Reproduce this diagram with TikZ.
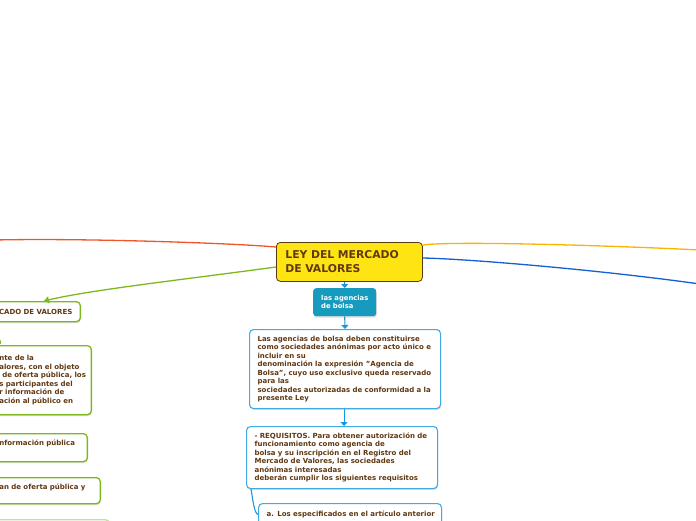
\documentclass[tikz,border=0pt]{standalone}
\usepackage{fontspec}
\setmainfont{DejaVu Sans}
\usetikzlibrary{arrows.meta,shadows}
\definecolor{brn}{RGB}{96,57,19}
\definecolor{ylw}{RGB}{255,228,20}
\definecolor{ylwb}{RGB}{90,58,16}
\definecolor{tealbox}{RGB}{22,155,190}
\definecolor{bluebd}{RGB}{64,170,230}
\definecolor{bluear}{RGB}{25,150,225}
\definecolor{grn}{RGB}{125,185,30}
\definecolor{grnl}{RGB}{195,222,150}
\definecolor{redl}{RGB}{240,85,40}
\definecolor{orl}{RGB}{250,180,0}
\definecolor{bll}{RGB}{20,95,210}
\newcommand\nb[1]{\mbox{#1}}
\tikzset{
  shad/.style={drop shadow={shadow xshift=0.6pt,shadow yshift=-1.4pt,opacity=0.3,fill=black!45}},
  txt/.style={text=brn,font=\bfseries\fontsize{7}{8.5}\selectfont},
  bluebox/.style={draw=bluebd,line width=1.1pt,fill=white,rounded corners=4pt,shad,
    anchor=north west,inner xsep=8pt,inner ysep=0pt,align=left,txt},
  greenbox/.style={draw=grn,line width=1.3pt,fill=white,rounded corners=4pt,shad,
    anchor=north east,inner xsep=8pt,inner ysep=0pt,txt},
  bluearrow/.style={draw=bluear,line width=1.1pt,-{Triangle[width=7pt,length=4pt]}},
  branch/.style={line width=1.3pt},
}
\begin{document}
\begin{tikzpicture}[x=1pt,y=-1pt]
\useasboundingbox (0,0) rectangle (696,520);
\clip (0,0) rectangle (696,520);

% central node
\node[draw=ylwb,line width=0.8pt,fill=ylw,rounded corners=4pt,anchor=north west,
  minimum width=146pt,minimum height=39pt,inner xsep=9pt,inner ysep=0pt,
  text width=128pt,align=left,text=brn,font=\bfseries\fontsize{10.8}{14}\selectfont]
  (ley) at (276,242) {\nb{LEY DEL MERCADO}\\\nb{DE VALORES}};

% teal box
\node[fill=tealbox,rounded corners=3pt,shad,anchor=north west,minimum width=63pt,
  minimum height=28pt,inner xsep=8pt,inner ysep=0pt,text width=47pt,align=left,
  text=white,font=\bfseries\fontsize{6.8}{8.5}\selectfont]
  (ag) at (313,288) {\nb{las agencias}\\\nb{de bolsa}};

% blue boxes
\node[bluebox,minimum width=191pt,minimum height=79pt,text width=175pt] (b3) at (249,329)
 {\nb{Las agencias de bolsa deben constituirse}\\
  \nb{como sociedades anónimas por acto único e}\\
  \nb{incluir en su}\\
  \nb{denominación la expresión "Agencia de}\\
  \nb{Bolsa", cuyo uso exclusivo queda reservado}\\
  \nb{para las}\\
  \nb{sociedades autorizadas de conformidad a la}\\
  \nb{presente Ley}};

\node[bluebox,minimum width=191pt,minimum height=62pt,text width=175pt] (b4) at (246,426)
 {\nb{- REQUISITOS. Para obtener autorización de}\\
  \nb{funcionamiento como agencia de}\\
  \nb{bolsa y su inscripción en el Registro del}\\
  \nb{Mercado de Valores, las sociedades}\\
  \nb{anónimas interesadas}\\
  \nb{deberán cumplir los siguientes requisitos}};

\node[bluebox,minimum width=183pt,minimum height=22pt,text width=167pt] (b5) at (258,503)
 {\nb{a. Los especificados en el artículo anterior}};

% green boxes (left, partly cut off)
\node[greenbox,minimum width=141pt,minimum height=20pt,text width=125pt,align=right] (l1) at (81,301)
 {\nb{CADO DE VALORES}};
\node[greenbox,minimum width=100pt,minimum height=69pt,text width=84pt,align=left] (l2) at (92,345)
 {\nb{nte de la}\\
  \nb{alores, con el objeto}\\
  \nb{\hspace{3pt}de oferta pública, los}\\
  \nb{s participantes del}\\
  \nb{r información de}\\
  \nb{ación al público en}\\[2pt]};
\node[greenbox,minimum width=96pt,minimum height=28pt,text width=80pt,align=left] (l3) at (88,433)
 {\nb{nformación pública}\\[1pt]\mbox{}};
\node[greenbox,minimum width=109pt,minimum height=26pt,text width=93pt,align=left] (l4) at (101,477)
 {\nb{an de oferta pública y}\\\mbox{}};
\node[greenbox,draw=grnl,minimum width=118pt,minimum height=20pt] (l5) at (110,519) {};

% branches
\coordinate (redend) at (-5,240);
\coordinate (orend) at (700,250);
\coordinate (blend) at (700,284);
\coordinate (g2s) at (-6,334);
\draw[branch,redl] ([yshift=-5pt]ley.north west) .. controls (230,243) and (80,238) .. (redend);
\draw[branch,grn,-{Triangle[width=7pt,length=5pt]}] ([yshift=-25pt]ley.north west)
  .. controls (180,280) and (90,290) .. ([xshift=-37pt]l1.north east);
\draw[branch,grn,-{Triangle[width=5pt,length=3pt]}] (g2s) -- ([xshift=10pt,yshift=1pt]l2.north west);
\draw[branch,orl] ([yshift=-3pt]ley.north east) .. controls (450,241) and (600,245) .. (orend);
\draw[branch,bll] ([yshift=-16pt]ley.north east) .. controls (470,259) and (600,270) .. (blend);

% blue connectors
\draw[bluearrow] (ley.south -| ag.north) -- (ag.north);
\draw[bluearrow] (ag.south) -- (b3.north);
\draw[bluearrow] ([xshift=-1pt]b3.south) -- ([xshift=-1pt]b3.south |- b4.north);
\draw[draw=bluear,line width=1.1pt] ([xshift=5pt]b4.south west) .. controls (253,500) and (254,513) .. (b5.west);
\end{tikzpicture}
\end{document}
